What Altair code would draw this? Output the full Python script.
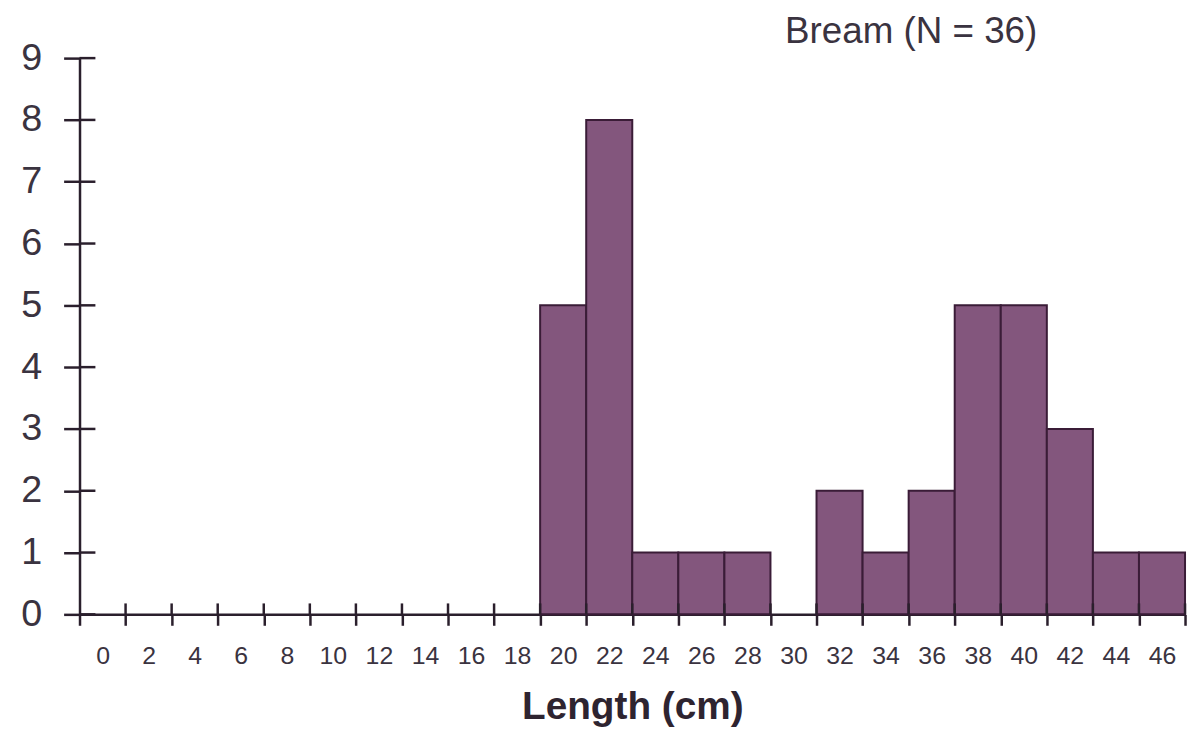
import altair as alt
import pandas as pd

lengths = [0, 2, 4, 6, 8, 10, 12, 14, 16, 18, 20, 22, 24, 26, 28, 30, 32, 34, 36, 38, 40, 42, 44, 46]
counts = [0, 0, 0, 0, 0, 0, 0, 0, 0, 0, 5, 8, 1, 1, 1, 0, 2, 1, 2, 5, 5, 3, 1, 1]
y_ticks = [0, 1, 2, 3, 4, 5, 6, 7, 8, 9]

df = pd.DataFrame({"length": lengths, "count": counts})
df_y = pd.DataFrame({"v": y_ticks})

FONT = "Liberation Sans"
AX = "#2a1f2c"
TXT = "#3a3340"

xscale = alt.Scale(paddingInner=0, paddingOuter=0)
yscale = alt.Scale(domain=[0, 9])

bars = alt.Chart(df).transform_filter("datum.count > 0").mark_bar(
    color="#83567d", stroke="#3a1c37", strokeWidth=2
).encode(
    x=alt.X("length:O", scale=xscale, title="Length (cm)",
            axis=alt.Axis(labelAngle=0, tickBand="extent", tickSize=11, tickWidth=2.5,
                          tickColor=AX, domainColor=AX, domainWidth=2.5,
                          labelFont=FONT, labelFontSize=25, labelColor=TXT, labelPadding=18,
                          titleFont=FONT, titleFontSize=39, titleFontWeight="bold",
                          titleColor="#2e2430", titlePadding=20)),
    y=alt.Y("count:Q", scale=yscale, title=None,
            axis=alt.Axis(values=y_ticks, format="d", grid=False, tickSize=16, tickWidth=2.5,
                          tickColor=AX, domainColor=AX, domainWidth=2.5,
                          labelFont=FONT, labelFontSize=38, labelColor=TXT, labelPadding=22)),
)

xin = alt.Chart(df).mark_rule(color=AX, strokeWidth=2.5).encode(
    x=alt.X("length:O", scale=xscale, bandPosition=1),
    y=alt.value(549), y2=alt.value(560),
)

yin = alt.Chart(df_y).mark_rule(color=AX, strokeWidth=2.5).encode(
    y=alt.Y("v:Q", scale=yscale),
    x=alt.value(0), x2=alt.value(16),
)

chart = alt.layer(bars, xin, yin).properties(
    width=1113, height=560,
    autosize=alt.AutoSizeParams(type="none"),
    padding={"left": 72, "top": 48, "right": 4, "bottom": 118},
    background="white",
    title=alt.TitleParams("Bream (N = 36)", anchor="end", dx=-150, dy=20, fontSize=37,
                          font=FONT, fontWeight="normal", color=TXT, offset=8),
).configure_view(stroke=None)

chart.save("out.html", embed_options={"renderer": "svg", "actions": False})
